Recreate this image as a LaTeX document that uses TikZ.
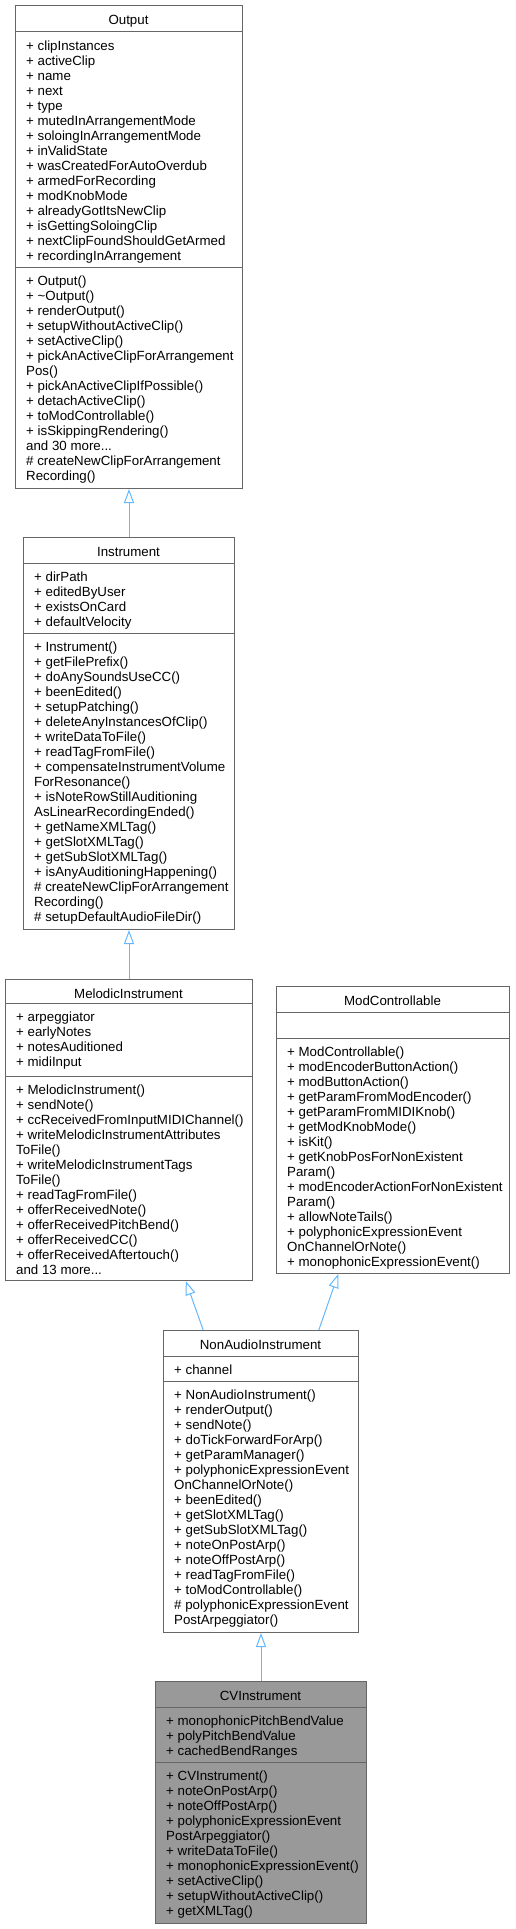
\documentclass[tikz,border=0pt]{standalone}
\usepackage{fontspec}
\setmainfont{Liberation Sans}
\usetikzlibrary{arrows.meta}
\usetikzlibrary{calc}
\definecolor{boxgray}{HTML}{666666}
\definecolor{cvgray}{HTML}{999999}
\definecolor{edgeblue}{HTML}{63B8FF}
\tikzset{cls/.style = {draw = boxgray, fill = white, line width = 1pt, rectangle,
                       inner sep = 0, anchor = north west}}
\tikzset{sep/.style = {draw = boxgray, line width = 1pt}}
\tikzset{title/.style = {anchor = base, inner sep = 0, font = \fontsize{13.3}{15}\selectfont}}
\tikzset{members/.style = {anchor = north west, inner sep = 0, align = left,
                           font = \fontsize{13.3}{15}\selectfont}}
\tikzset{inherit/.style = {draw = edgeblue, line width = 1pt,
                           -{Triangle[open, length = 14pt, width = 10pt]}}}

\begin{document}
\begin{tikzpicture}[x = 1pt, y = -1pt]
      \useasboundingbox (0, 0) rectangle (515, 1929);

      % Output
      \node [cls, minimum width = 227, minimum height = 483] (output) at (15, 5) {};
      \node [title] (output-title) at (128.5, 24.5) {Output};
      \draw [sep] (15, 32) -- (242, 32);
      \draw [sep] (15, 267.5) -- (242, 267.5);
      \node [members] (output-attrs) at (26, 39.5) {\strut + clipInstances\\+ activeClip\\+ name\\+ next\\+ type\\+ mutedInArrangementMode\\+ soloingInArrangementMode\\+ inValidState\\+ wasCreatedForAutoOverdub\\+ armedForRecording\\+ modKnobMode\\+ alreadyGotItsNewClip\\+ isGettingSoloingClip\\+ nextClipFoundShouldGetArmed\\+ recordingInArrangement};
      \node [members] (output-ops) at (26, 275) {\strut + Output()\\+ \textasciitilde Output()\\+ renderOutput()\\+ setupWithoutActiveClip()\\+ setActiveClip()\\+ pickAnActiveClipForArrangement\\Pos()\\+ pickAnActiveClipIfPossible()\\+ detachActiveClip()\\+ toModControllable()\\+ isSkippingRendering()\\and 30 more...\\\# createNewClipForArrangement\\Recording()};

      % Instrument
      \node [cls, minimum width = 211, minimum height = 392] (instrument) at (23, 537) {};
      \node [title] (instrument-title) at (128.5, 556.5) {Instrument};
      \draw [sep] (23, 563) -- (234, 563);
      \draw [sep] (23, 633) -- (234, 633);
      \node [members] (instrument-attrs) at (34, 570.5) {\strut + dirPath\\+ editedByUser\\+ existsOnCard\\+ defaultVelocity};
      \node [members] (instrument-ops) at (34, 640.5) {\strut + Instrument()\\+ getFilePrefix()\\+ doAnySoundsUseCC()\\+ beenEdited()\\+ setupPatching()\\+ deleteAnyInstancesOfClip()\\+ writeDataToFile()\\+ readTagFromFile()\\+ compensateInstrumentVolume\\ForResonance()\\+ isNoteRowStillAuditioning\\AsLinearRecordingEnded()\\+ getNameXMLTag()\\+ getSlotXMLTag()\\+ getSubSlotXMLTag()\\+ isAnyAuditioningHappening()\\\# createNewClipForArrangement\\Recording()\\\# setupDefaultAudioFileDir()};

      % MelodicInstrument
      \node [cls, minimum width = 247, minimum height = 301] (melodic) at (5, 979) {};
      \node [title] (melodic-title) at (128.5, 998.5) {MelodicInstrument};
      \draw [sep] (5, 1003) -- (252, 1003);
      \draw [sep] (5, 1076) -- (252, 1076);
      \node [members] (melodic-attrs) at (16, 1010.5) {\strut + arpeggiator\\+ earlyNotes\\+ notesAuditioned\\+ midiInput};
      \node [members] (melodic-ops) at (16, 1083.5) {\strut + MelodicInstrument()\\+ sendNote()\\+ ccReceivedFromInputMIDIChannel()\\+ writeMelodicInstrumentAttributes\\ToFile()\\+ writeMelodicInstrumentTags\\ToFile()\\+ readTagFromFile()\\+ offerReceivedNote()\\+ offerReceivedPitchBend()\\+ offerReceivedCC()\\+ offerReceivedAftertouch()\\and 13 more...};

      % ModControllable
      \node [cls, minimum width = 233, minimum height = 287] (modctrl) at (276, 986) {};
      \node [title] (modctrl-title) at (392.5, 1005.5) {ModControllable};
      \draw [sep] (276, 1012) -- (509, 1012);
      \draw [sep] (276, 1038) -- (509, 1038);
      \node [members] (modctrl-ops) at (287, 1045.5) {\strut + ModControllable()\\+ modEncoderButtonAction()\\+ modButtonAction()\\+ getParamFromModEncoder()\\+ getParamFromMIDIKnob()\\+ getModKnobMode()\\+ isKit()\\+ getKnobPosForNonExistent\\Param()\\+ modEncoderActionForNonExistent\\Param()\\+ allowNoteTails()\\+ polyphonicExpressionEvent\\OnChannelOrNote()\\+ monophonicExpressionEvent()};

      % NonAudioInstrument
      \node [cls, minimum width = 195, minimum height = 302] (nonaudio) at (163, 1330) {};
      \node [title] (nonaudio-title) at (260.5, 1349.5) {NonAudioInstrument};
      \draw [sep] (163, 1356) -- (358, 1356);
      \draw [sep] (163, 1381) -- (358, 1381);
      \node [members] (nonaudio-attrs) at (174, 1363.5) {\strut + channel};
      \node [members] (nonaudio-ops) at (174, 1388.5) {\strut + NonAudioInstrument()\\+ renderOutput()\\+ sendNote()\\+ doTickForwardForArp()\\+ getParamManager()\\+ polyphonicExpressionEvent\\OnChannelOrNote()\\+ beenEdited()\\+ getSlotXMLTag()\\+ getSubSlotXMLTag()\\+ noteOnPostArp()\\+ noteOffPostArp()\\+ readTagFromFile()\\+ toModControllable()\\\# polyphonicExpressionEvent\\PostArpeggiator()};

      % CVInstrument
      \node [cls, fill = cvgray, minimum width = 211, minimum height = 242] (cvinstr) at (155, 1681) {};
      \node [title] (cvinstr-title) at (260.5, 1700.5) {CVInstrument};
      \draw [sep] (155, 1707) -- (366, 1707);
      \draw [sep] (155, 1762) -- (366, 1762);
      \node [members] (cvinstr-attrs) at (166, 1714.5) {\strut + monophonicPitchBendValue\\+ polyPitchBendValue\\+ cachedBendRanges};
      \node [members] (cvinstr-ops) at (166, 1769.5) {\strut + CVInstrument()\\+ noteOnPostArp()\\+ noteOffPostArp()\\+ polyphonicExpressionEvent\\PostArpeggiator()\\+ writeDataToFile()\\+ monophonicExpressionEvent()\\+ setActiveClip()\\+ setupWithoutActiveClip()\\+ getXMLTag()};

      \draw [inherit] (instrument.north) -- (output.south);
      \draw [inherit] (melodic.north) -- (instrument.south);
      \draw [inherit] ($(nonaudio.north west)!0.205!(nonaudio.north east)$) -- ($(melodic.south west)!0.729!(melodic.south east)$);
      \draw [inherit] ($(nonaudio.north west)!0.795!(nonaudio.north east)$) -- ($(modctrl.south west)!0.266!(modctrl.south east)$);
      \draw [inherit] (cvinstr.north) -- (nonaudio.south);

    \end{tikzpicture}
\end{document}
